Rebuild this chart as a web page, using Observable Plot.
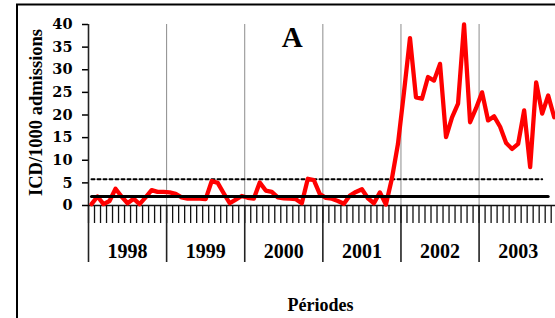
<!DOCTYPE html>
<html>
<head>
<meta charset="utf-8">
<script src="https://cdn.jsdelivr.net/npm/d3@7"></script>
<script src="https://cdn.jsdelivr.net/npm/@observablehq/plot@0.6"></script>
<style>
  html, body { margin: 0; padding: 0; background: #fff; overflow: hidden; }
</style>
</head>
<body>
<div id="chart"></div>
<script>
// ---- data (13 four-week periods per year) ----
const years = ["1998", "1999", "2000", "2001", "2002", "2003"];
const periodsPerYear = 13;
const icd1998 = [0.3, 2.0, 0.3, 1.0, 3.7, 2.0, 0.5, 1.5, 0.3, 1.8, 3.4, 3.0, 3.0];
const icd1999 = [2.9, 2.6, 1.8, 1.5, 1.5, 1.5, 1.4, 5.4, 5.0, 2.7, 0.5, 1.3, 2.1];
const icd2000 = [1.7, 1.5, 5.1, 3.3, 3.0, 1.8, 1.6, 1.5, 1.4, 0.5, 5.9, 5.6, 2.5];
const icd2001 = [1.7, 1.5, 1.0, 0.4, 2.2, 3.0, 3.6, 1.6, 0.5, 2.9, 0.2, 6.0, 13.6];
const icd2002 = [25.0, 37.0, 23.9, 23.6, 28.4, 27.6, 31.3, 15.1, 19.5, 22.5, 40.0, 18.4, 21.5];
const icd2003 = [25.0, 18.8, 19.7, 17.4, 13.8, 12.5, 13.6, 21.0, 8.5, 27.2, 20.3, 24.3, 19.5];
const meanLevel = 2.0;      // solid black line
const meanLastPeriod = 76;
const alertLevel = 5.8;     // dotted line
const alertLastPeriod = 75;
const yTicks = [0, 5, 10, 15, 20, 25, 30, 35, 40];
const yTitle = "ICD/1000 admissions";
const xTitle = "Périodes";
const panelLabel = "A";

// ---- derived tables ----
const icdAll = [icd1998, icd1999, icd2000, icd2001, icd2002, icd2003].flat();
const series = icdAll.map((v, i) => ({ p: i + 0.5, v }));
const meanData = d3.range(0, meanLastPeriod + 1).map(i => ({ p: i + 0.5, v: meanLevel }));
const alertData = d3.range(0, alertLastPeriod + 1).map(i => ({ p: i + 0.5, v: alertLevel }));
const nPeriods = periodsPerYear * years.length;
const yearBounds = d3.range(0, years.length + 1).map(i => i * periodsPerYear);
const periodBounds = d3.range(0, nPeriods + 1);
const yearCenters = years.map((y, i) => ({ label: y, p: i * periodsPerYear + periodsPerYear / 2 }));

const serif = "'Liberation Serif', 'Times New Roman', serif";

const plot = Plot.plot({
  width: 555,
  height: 318,
  marginLeft: 88,
  marginRight: 0,
  marginTop: 24,
  marginBottom: 113,
  x: { domain: [0, nPeriods], range: [88, 556.7] },
  y: { domain: [0, 40], range: [205, 24] },
  style: { background: "white", fontFamily: serif, color: "black", overflow: "visible" },
  marks: [
    // vertical gray separators between years
    Plot.ruleX(yearBounds.slice(1, -1), { stroke: "#8c8c8c", strokeWidth: 1 }),
    // minor ticks for each period
    Plot.axisX({ ticks: periodBounds, tickSize: 18, tickFormat: () => "", label: null, strokeWidth: 1.3, stroke: "#111" }),
    // major ticks at year boundaries
    Plot.axisX({ ticks: yearBounds, tickSize: 57, tickFormat: () => "", label: null, strokeWidth: 1.6, stroke: "#222" }),
    // y axis
    Plot.axisY({ ticks: yTicks, tickSize: 6, tickPadding: 10, label: null, strokeWidth: 1.5,
                 fontSize: 14.5, fontWeight: "bold", fontFamily: "'DejaVu Serif', serif" }),
    Plot.ruleX([0], { stroke: "#222", strokeWidth: 1.6 }),
    Plot.ruleY([0], { stroke: "#111", strokeWidth: 1.6 }),
    // dotted alert threshold
    Plot.line(alertData, { x: "p", y: "v", stroke: "black", strokeWidth: 2, strokeDasharray: "3,3" }),
    // ICD series
    Plot.line(series, { x: "p", y: "v", stroke: "#ff0000", strokeWidth: 4.3, strokeLinejoin: "round", strokeLinecap: "round" }),
    // mean line
    Plot.line(meanData, { x: "p", y: "v", stroke: "black", strokeWidth: 3 }),
    // year labels
    Plot.text(yearCenters, { x: "p", text: "label", frameAnchor: "bottom", dy: 46.3, lineAnchor: "middle",
                             fontSize: 20, fontWeight: "bold", fill: "black" }),
    // axis titles
    Plot.text([xTitle], { frameAnchor: "bottom", dx: -1.5, dy: 99.9, lineAnchor: "middle", textAnchor: "middle",
                          fontSize: 18, fontWeight: "bold", fill: "black" }),
    Plot.text([yTitle], { frameAnchor: "left", rotate: -90, dx: -52.4, dy: -2.5, lineAnchor: "middle", textAnchor: "middle",
                          fontSize: 18.5, fontWeight: "bold", fill: "black" }),
    Plot.text([panelLabel], { frameAnchor: "top", dx: -29.8, dy: 13.4, lineAnchor: "middle", textAnchor: "middle",
                              fontSize: 29, fontWeight: "bold", fill: "black" })
  ]
});

// outer figure border
d3.select(plot).append("rect")
  .attr("x", 17).attr("y", 4.5).attr("width", 560).attr("height", 330)
  .attr("fill", "none").attr("stroke", "black").attr("stroke-width", 2);

document.getElementById("chart").appendChild(plot);
</script>
</body>
</html>
